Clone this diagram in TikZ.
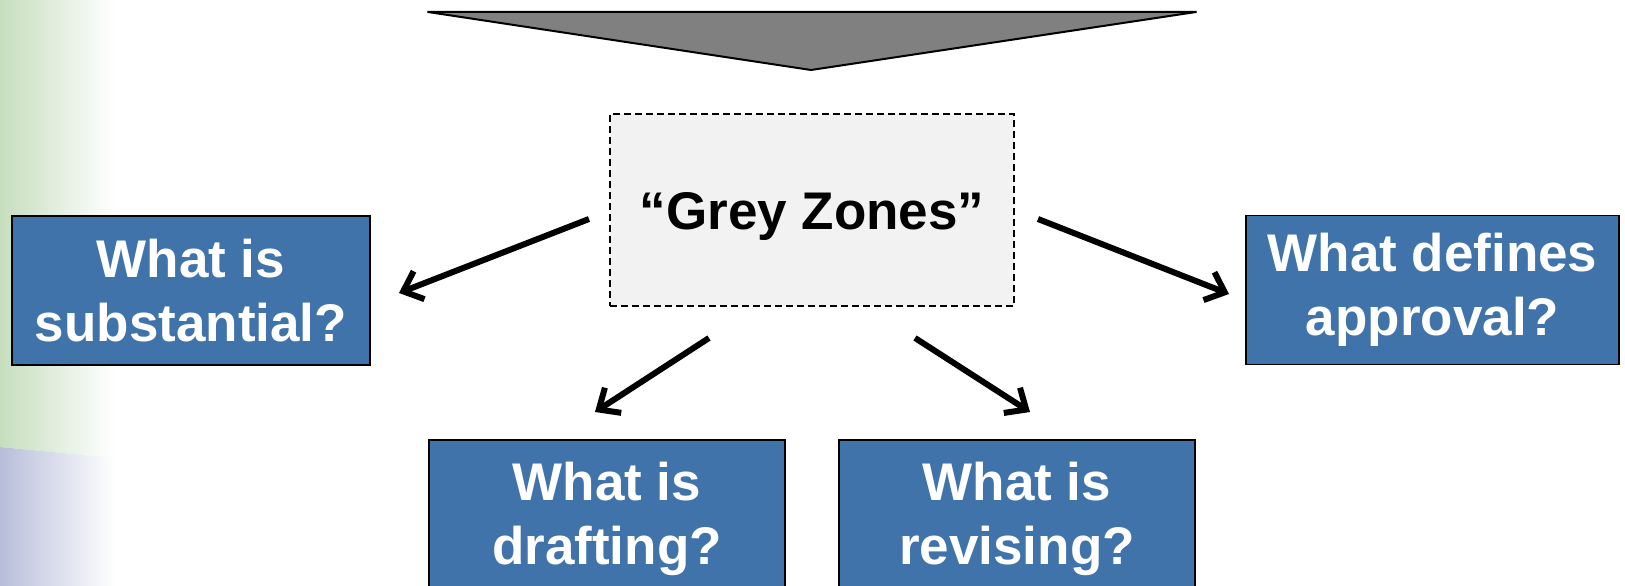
\documentclass[tikz,border=0pt]{standalone}
\usepackage{fontspec}
\setmainfont{Liberation Sans}
\usetikzlibrary{arrows.meta}
\definecolor{qblue}{RGB}{64,115,170}
\definecolor{zonegrey}{RGB}{242,242,242}
\definecolor{funnelgrey}{RGB}{128,128,128}
\definecolor{leafgreen}{RGB}{198,222,190}
\definecolor{lavender}{RGB}{184,190,218}
\tikzset{
	qbox/.style={draw=black, line width=1.5pt, fill=qblue, text=white, inner sep=0pt, align=center, font=\bfseries\fontsize{53}{64}\selectfont},
	zone/.style={draw=black, line width=1.5pt, dash pattern=on 7pt off 4pt, fill=zonegrey, inner sep=0pt, text height=38pt, text depth=0pt, font=\bfseries\fontsize{53}{64}\selectfont},
	arr/.style={line width=6pt, -{Straight Barb[length=17pt,width=30pt,line width=6pt]}}
}

\begin{document}
\begin{tikzpicture}[x=1pt,y=-1pt]
		%%%%% START %%%%%
		
		\clip (0,0) rectangle (1625,586);
		\fill[white] (0,0) rectangle (1625,586);
		
		% left strip
		\shade[left color=leafgreen, right color=white] (0,0) -- (115,0) -- (115,458) -- (0,447) -- cycle;
		\shade[left color=lavender, right color=white] (0,447) -- (115,458) -- (115,586) -- (0,586) -- cycle;
		
		% funnel
		\draw[line width=2pt, line join=round, fill=funnelgrey] (428,12) -- (1196,12) -- (811,70) -- cycle;
		
		\node[zone, minimum width=404, minimum height=192] (zones) at (812,210) {``Grey Zones''};
		
		\node[qbox, minimum width=358, minimum height=149] (subst) at (191,290.5) {What is\\substantial?};
		\node[qbox, minimum width=373, minimum height=149] (approv) at (1432.5,290) {What defines\\approval?};
		\node[qbox, minimum width=356, minimum height=157] (draft) at (607,518.5) {What is\\drafting?};
		\node[qbox, minimum width=356, minimum height=157] (revis) at (1017,518.5) {What is\\revising?};
		
		\coordinate (l0) at (589,219);
		\coordinate (l1) at (399,293);
		\coordinate (r0) at (1038,219);
		\coordinate (r1) at (1229,294);
		\coordinate (d0) at (709,338);
		\coordinate (d1) at (595,412);
		\coordinate (v0) at (915,338);
		\coordinate (v1) at (1030,412);
		
		\draw[arr] (l0) -- (l1);
		\draw[arr] (r0) -- (r1);
		\draw[arr] (d0) -- (d1);
		\draw[arr] (v0) -- (v1);
		
		%%%%% END %%%%%
	\end{tikzpicture}
\end{document}
